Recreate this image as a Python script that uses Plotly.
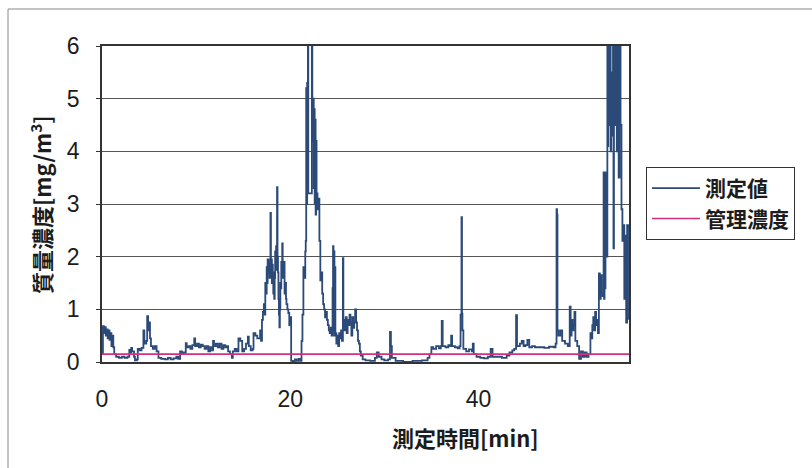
import plotly.graph_objects as go

# Elapsed time [min] and measured mass concentration [mg/m3]
minutes = [
    0.0, 0.1, 0.2, 0.3, 0.4, 0.5, 0.6, 0.7, 0.8, 0.9, 1.0, 1.1, 1.2, 1.3, 1.5, 1.8,
    2.1, 2.4, 2.7, 2.9, 3.0, 3.1, 3.2, 3.4, 3.5, 3.7, 3.8, 4.0, 4.2, 4.4, 4.5, 4.7,
    4.8, 4.9, 5.0, 5.1, 5.2, 5.4, 5.6, 5.8, 6.0, 6.3, 6.7, 7.0, 7.3, 7.6, 7.9, 8.1,
    8.3, 8.5, 8.7, 8.9, 9.0, 9.2, 9.4, 9.6, 9.8, 9.9, 10.1, 10.3, 10.5, 10.7, 10.9,
    11.1, 11.3, 11.5, 11.7, 11.8, 11.9, 12.1, 12.3, 12.5, 12.7, 12.9, 13.1, 13.3,
    13.4, 13.6, 13.8, 13.9, 14.1, 14.3, 14.5, 14.7, 14.9, 15.1, 15.3, 15.5, 15.6,
    15.8, 16.0, 16.1, 16.3, 16.5, 16.6, 16.8, 16.9, 17.0, 17.1, 17.2, 17.3, 17.35,
    17.4, 17.5, 17.55, 17.6, 17.7, 17.75, 17.8, 17.9, 17.95, 18.0, 18.05, 18.1,
    18.15, 18.2, 18.25, 18.3, 18.35, 18.4, 18.45, 18.5, 18.55, 18.6, 18.65, 18.7,
    18.75, 18.8, 18.85, 18.9, 18.95, 19.0, 19.05, 19.1, 19.15, 19.2, 19.3, 19.35,
    19.4, 19.5, 19.55, 19.6, 19.7, 19.8, 19.9, 20.0, 20.1, 20.3, 20.5, 20.7, 20.9,
    21.1, 21.2, 21.3, 21.4, 21.5, 21.6, 21.65, 21.7, 21.75, 21.8, 21.85, 21.88,
    21.92, 22.3, 22.35, 22.4, 22.45, 22.5, 22.55, 22.6, 22.65, 22.7, 22.75, 22.8,
    22.9, 23.0, 23.1, 23.2, 23.3, 23.4, 23.5, 23.6, 23.7, 23.8, 23.9, 24.0, 24.1,
    24.2, 24.3, 24.4, 24.5, 24.55, 24.6, 24.65, 24.7, 24.75, 24.8, 24.9, 25.0,
    25.1, 25.2, 25.3, 25.4, 25.5, 25.6, 25.65, 25.7, 25.8, 25.9, 26.0, 26.1, 26.2,
    26.3, 26.4, 26.5, 26.6, 26.7, 26.8, 26.9, 27.0, 27.1, 27.2, 27.3, 27.4, 27.5,
    27.7, 28.0, 28.5, 29.0, 29.2, 29.4, 29.7, 30.0, 30.4, 30.6, 30.7, 30.8, 31.2,
    32.0, 33.0, 34.0, 34.6, 34.8, 35.0, 35.2, 35.5, 35.8, 36.0, 36.1, 36.2, 36.5,
    36.8, 37.0, 37.1, 37.2, 37.5, 37.8, 38.0, 38.1, 38.2, 38.25, 38.3, 38.4, 38.7,
    39.0, 39.3, 39.4, 39.5, 39.8, 40.2, 40.6, 41.0, 41.3, 41.5, 42.0, 42.5, 43.0,
    43.3, 43.6, 43.8, 44.0, 44.1, 44.4, 44.6, 44.8, 45.0, 45.2, 45.4, 45.7, 46.0,
    46.5, 47.0, 47.5, 48.0, 48.2, 48.3, 48.35, 48.4, 48.5, 48.7, 48.9, 49.2, 49.5,
    49.7, 49.8, 49.9, 50.0, 50.1, 50.2, 50.3, 50.5, 50.7, 50.9, 51.1, 51.3, 51.5,
    51.7, 51.9, 52.0, 52.1, 52.2, 52.3, 52.4, 52.5, 52.6, 52.7, 52.8, 52.9, 53.0,
    53.1, 53.2, 53.3, 53.35, 53.4, 53.45, 53.5, 53.6, 53.7, 53.75, 53.8, 53.9,
    54.0, 54.05, 54.1, 54.2, 54.3, 54.35, 54.4, 54.5, 54.6, 54.7, 54.8, 54.9,
    55.0, 55.1, 55.2, 55.3, 55.4, 55.5, 55.6, 55.7, 55.8, 55.9,
]
mass_conc = [
    0.15, 0.68, 0.55, 0.66, 0.5, 0.62, 0.45, 0.6, 0.42, 0.55, 0.3, 0.5, 0.28, 0.15, 0.1, 0.08,
    0.1, 0.08, 0.1, 0.23, 0.18, 0.27, 0.2, 0.1, 0.03, 0.05, 0.25, 0.22, 0.27, 0.6, 0.35, 0.4,
    0.87, 0.6, 0.75, 0.45, 0.3, 0.25, 0.3, 0.2, 0.08, 0.06, 0.05, 0.08, 0.05, 0.07, 0.1, 0.06,
    0.2, 0.15, 0.18, 0.36, 0.28, 0.3, 0.25, 0.32, 0.45, 0.3, 0.35, 0.28, 0.33, 0.3, 0.25,
    0.3, 0.2, 0.28, 0.22, 0.4, 0.3, 0.35, 0.28, 0.35, 0.25, 0.32, 0.28, 0.3,
    0.2, 0.15, 0.08, 0.2, 0.25, 0.2, 0.45, 0.4, 0.2, 0.25, 0.35, 0.48, 0.3,
    0.22, 0.25, 0.55, 0.5, 0.45, 0.45, 0.6, 0.4, 0.8, 0.95, 1.1, 0.9, 1.5,
    1.3, 1.8, 1.5, 1.95, 1.7, 1.9, 1.6, 2.83, 1.7, 1.95, 1.5, 1.85,
    1.6, 1.3, 1.7, 1.2, 1.6, 2.1, 1.8, 2.2, 1.75, 3.32, 2.0, 1.7,
    1.2, 0.9, 0.66, 1.0, 1.5, 1.4, 1.9, 1.6, 2.25, 1.8, 1.6, 1.9,
    1.3, 1.5, 1.2, 1.1, 1.0, 0.93, 0.7, 0.85, 0.02, 0.0, 0.05, 0.02, 0.06,
    0.02, 0.4, 0.9, 1.8, 1.6, 2.1, 2.3, 5.2, 3.0, 5.3, 4.5, 6.5,
    3.2, 6.5, 5.0, 4.2, 5.0, 3.3, 4.8, 3.0, 4.6, 2.8, 4.2, 3.2,
    2.9, 3.1, 2.3, 1.55, 1.7, 1.3, 1.1, 1.0, 0.85, 0.95, 0.8, 0.7, 0.6,
    0.55, 0.65, 0.5, 1.4, 2.2, 0.6, 2.1, 0.5, 1.8, 0.55, 0.35, 0.5,
    0.3, 0.55, 0.45, 0.6, 0.4, 1.97, 0.6, 0.8, 0.6, 0.85, 0.55, 0.8, 0.7,
    0.9, 0.75, 0.5, 0.85, 0.65, 0.75, 1.0, 0.75, 0.6, 0.4, 0.35, 0.2, 0.12,
    0.05, 0.03, 0.02, 0.08, 0.18, 0.1, 0.05, 0.03, 0.05, 0.57, 0.3, 0.08, 0.02,
    0.0, 0.02, 0.03, 0.08, 0.15, 0.28, 0.25, 0.3, 0.26, 0.3, 0.78, 0.3, 0.28,
    0.32, 0.3, 0.5, 0.3, 0.28, 0.26, 0.3, 0.9, 2.75, 0.92, 0.6, 0.25, 0.2,
    0.24, 0.2, 0.35, 0.15, 0.1, 0.08, 0.07, 0.1, 0.25, 0.1, 0.1, 0.08, 0.12,
    0.18, 0.22, 0.25, 0.89, 0.3, 0.35, 0.4, 0.3, 0.32, 0.42, 0.28, 0.3, 0.28,
    0.28, 0.27, 0.29, 0.28, 0.35, 2.9, 2.8, 0.6, 0.5, 0.6, 0.4, 0.35, 0.3,
    1.05, 0.5, 0.8, 0.6, 0.7, 0.95, 0.4, 0.3, 0.06, 0.2, 0.1, 0.18, 0.1,
    0.15, 0.55, 0.45, 0.7, 0.85, 0.6, 0.95, 0.7, 0.8, 0.55, 1.68, 1.2, 1.65,
    1.3, 1.25, 3.6, 1.2, 3.5, 1.4, 3.6, 2.0, 6.5, 4.1, 6.5, 4.5,
    6.5, 4.0, 5.5, 4.3, 6.5, 2.16, 6.5, 4.5, 6.5, 4.0, 6.5, 3.5,
    6.5, 4.5, 2.9, 2.3, 2.6, 1.2, 2.4, 0.75, 2.6, 0.8,
]

# Control concentration (管理濃度) over the measurement period
control_minutes = [0, 56]
control_conc = [0.15, 0.15]

x_ticks = [0, 20, 40]
y_ticks = [0, 1, 2, 3, 4, 5, 6]

FONT = "Liberation Sans, Arial, Noto Sans CJK JP, sans-serif"
JP_FONT = "Noto Sans CJK JP"
TEXT = "#1c1c1c"

fig = go.Figure()
fig.add_trace(go.Scatter(
    x=minutes, y=mass_conc, mode="lines", name="測定値",
    line=dict(color="#2b4a78", width=1.8, shape="hv"),
))
fig.add_trace(go.Scatter(
    x=control_minutes, y=control_conc, mode="lines", name="管理濃度",
    line=dict(color="#d2307e", width=1.6),
))

W, H = 812, 468
L, R, T, B = 102, 183, 46, 106
pw, ph = W - L - R, H - T - B


def px_x(p):
    return (p - L) / pw


def px_y(p):
    return (H - B - p) / ph


fig.update_layout(
    width=W, height=H,
    margin=dict(l=L, r=R, t=T, b=B),
    paper_bgcolor="white", plot_bgcolor="white",
    font=dict(family=FONT, size=23, color=TEXT),
    showlegend=True,
    legend=dict(
        x=px_x(646), y=px_y(167), xanchor="left", yanchor="top",
        bordercolor="#333", borderwidth=1, bgcolor="white",
        font=dict(size=21, color=TEXT, family=JP_FONT, weight=600),
        itemwidth=48, tracegroupgap=0,
    ),
    xaxis=dict(
        range=[0, 56], tickvals=x_ticks, showgrid=False, zeroline=False,
        showline=True, linecolor="#333", linewidth=1.5, mirror=True,
        ticks="", ticklabelstandoff=16,
        tickfont=dict(size=23, color=TEXT),
    ),
    yaxis=dict(
        range=[0, 6], tickvals=y_ticks, showgrid=True, gridcolor="#555",
        gridwidth=1, zeroline=False,
        showline=True, linecolor="#333", linewidth=1.5, mirror=True,
        ticks="outside", ticklen=4, tickcolor="#333", ticklabelstandoff=12,
        tickfont=dict(size=23, color=TEXT),
    ),
    annotations=[
        dict(text="質量濃度[mg/m<sup>3</sup>]", xref="paper", yref="paper",
             x=px_x(40), y=px_y(205), xanchor="center", yanchor="middle",
             textangle=-90, showarrow=False,
             font=dict(size=22, color=TEXT, family=JP_FONT, weight=600)),
        dict(text="測定時間[min]", xref="paper", yref="paper",
             x=px_x(465), y=px_y(437), xanchor="center", yanchor="middle",
             showarrow=False,
             font=dict(size=22, color=TEXT, family=JP_FONT, weight=600)),
    ],
    shapes=[
        dict(type="rect", xref="paper", yref="paper",
             x0=px_x(8), x1=px_x(830), y0=px_y(490), y1=px_y(9),
             line=dict(color="#888", width=1), layer="below"),
    ],
)

fig.write_html("out.html")
